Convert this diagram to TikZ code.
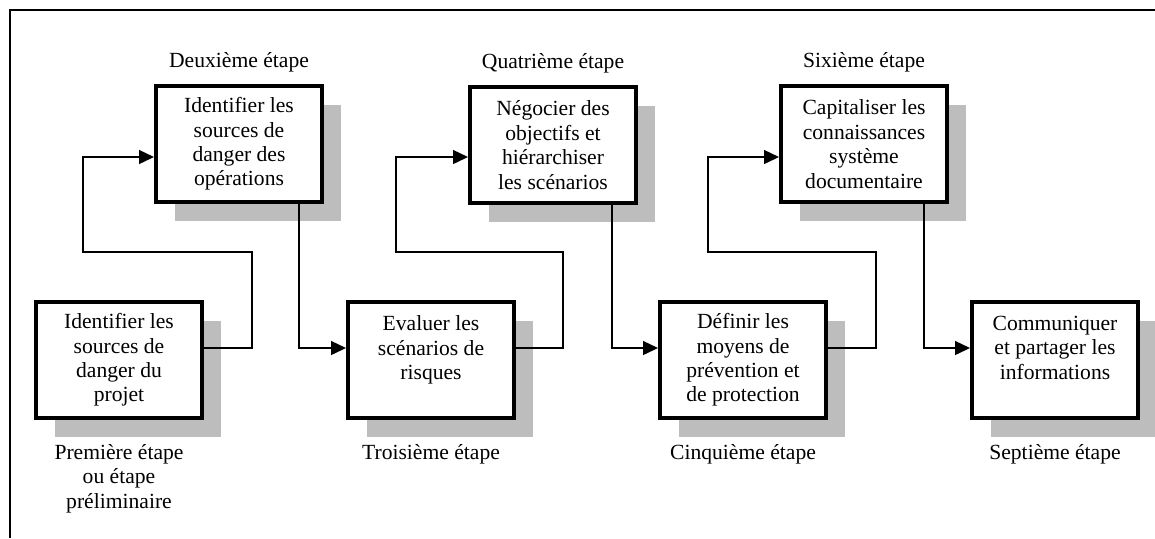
\documentclass[tikz,border=0pt]{standalone}
\usepackage{fontspec}
\setmainfont{Liberation Serif}
\usetikzlibrary{arrows.meta, positioning, shadows}

\tikzset{
  etape/.style={draw, line width=2pt, fill=white, minimum width=83pt, minimum height=58pt,
    align=center, inner sep=2pt,
    drop shadow={shadow xshift=9.5pt, shadow yshift=-9.5pt, fill=black!26, opacity=1}},
  lien/.style={line width=0.7pt, -{Triangle[length=7.5pt,width=7pt]}},
  titre/.style={inner sep=0pt, align=center},
}

\begin{document}
\begin{tikzpicture}[x=0.5pt, y=-0.5pt, font=\fontsize{10.8pt}{12.2pt}\selectfont]
  \useasboundingbox (0,0) rectangle (1155,538);
  % cadre
  \draw[line width=1pt] (10,538) -- (10,10) -- (1155,10);
  % etapes
  \node[etape] (b1) at (119,360) {Identifier les\\sources de\\danger du\\projet};
  \node[etape] (b2) at (239,144) {Identifier les\\sources de\\danger des\\opérations};
  \node[etape] (b3) at (431,360) {Evaluer les\\scénarios de\\risques\\\phantom{x}};
  \node[etape] (b4) at (553,145) {Négocier des\\objectifs et\\hiérarchiser\\les scénarios};
  \node[etape] (b5) at (743,360) {Définir les\\moyens de\\prévention et\\de protection};
  \node[etape] (b6) at (864,144) {Capitaliser les\\connaissances\\système\\documentaire};
  \node[etape] (b7) at (1055,360) {Communiquer\\et partager les\\informations\\\phantom{x}};
  % titres
  \node[titre, below=12pt of b1] (t1) {Première étape\\ou étape\\préliminaire};
  \node[titre, above=6pt of b2] (t2) {Deuxième étape};
  \node[titre, below=12pt of b3] (t3) {Troisième étape};
  \node[titre, above=6pt of b4] (t4) {Quatrième étape};
  \node[titre, below=12pt of b5] (t5) {Cinquième étape};
  \node[titre, above=6pt of b6] (t6) {Sixième étape};
  \node[titre, below=12pt of b7] (t7) {Septième étape};
  % liens
  \draw[lien] ([yshift=6pt]b1.east) -- ++(48,0) |- ++(-169,-96) |- ([yshift=-6.5pt]b2.west);
  \draw[lien] ([xshift=30pt]b2.south) |- ([yshift=6pt]b3.west);
  \draw[lien] ([yshift=6pt]b3.east) -- ++(47,0) |- ++(-167,-96) |- ([yshift=-6pt]b4.west);
  \draw[lien] ([xshift=29.5pt]b4.south) |- ([yshift=6pt]b5.west);
  \draw[lien] ([yshift=6pt]b5.east) -- ++(48,0) |- ++(-168,-96) |- ([yshift=-6.5pt]b6.west);
  \draw[lien] ([xshift=30pt]b6.south) |- ([yshift=6pt]b7.west);
\end{tikzpicture}
\end{document}
